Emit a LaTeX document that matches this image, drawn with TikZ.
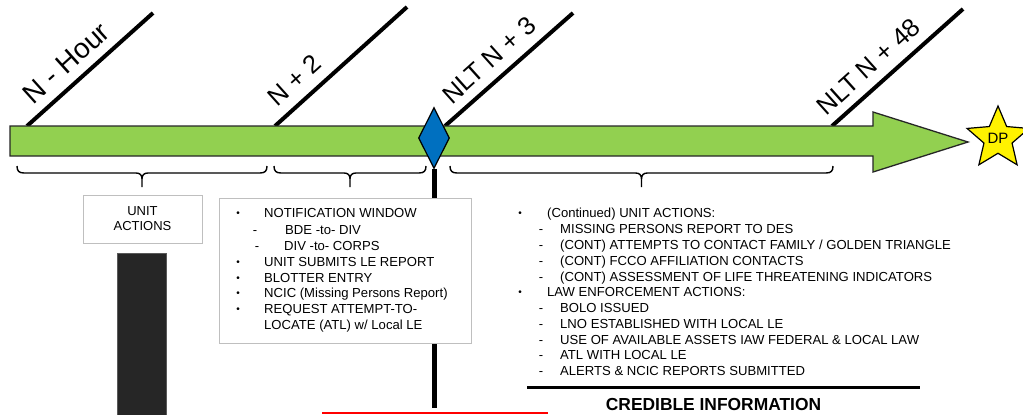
\documentclass[tikz,border=0pt]{standalone}
\usepackage{fontspec}
\setmainfont{Liberation Sans}
\usetikzlibrary{shapes.geometric,calc}
\definecolor{barGreen}{HTML}{92D050}
\definecolor{diaBlue}{HTML}{0070C0}
\definecolor{boxGray}{HTML}{BFBFBF}
\definecolor{darkFill}{HTML}{262626}
\newcommand\tlbrace[2]{%
  \draw[bracestyle] (#1,166) .. controls (#1,171) and ({#1+2},173) .. ({#1+7},173)
    -- ({(#1+#2)/2-6},173) .. controls ({(#1+#2)/2-2},173) and ({(#1+#2)/2},175) .. ({(#1+#2)/2},179)
    -- ({(#1+#2)/2},187)
    ({(#1+#2)/2},179) .. controls ({(#1+#2)/2},175) and ({(#1+#2)/2+2},173) .. ({(#1+#2)/2+6},173)
    -- ({#2-7},173) .. controls ({#2-2},173) and (#2,171) .. (#2,166);}
\begin{document}
\begin{tikzpicture}[x=1pt,y=-1pt,
  tick/.style={line width=4pt,black},
  ticklbl/.style={font=\fontsize{25.5}{30}\selectfont, inner sep=0pt, anchor=base west, rotate=42},
  bracestyle/.style={line width=1.4pt,black},
  txt/.style={font=\fontsize{13.1}{16}\selectfont, inner sep=0pt, text height=9.3pt, text depth=0pt, anchor=west},
  bul/.style={font=\fontsize{10}{12}\selectfont, inner sep=0pt, anchor=base},
  dsh/.style={font=\fontsize{13}{16}\selectfont, inner sep=0pt, text height=9.3pt, text depth=0pt, anchor=center},
  graybox/.style={draw=boxGray, line width=1pt, fill=white}]
\useasboundingbox (0,0) rectangle (1023,415);
\fill[white] (0,0) rectangle (1023,415);

% tick lines
\coordinate (t1a) at (27,126);  \coordinate (t1b) at (153,13);
\coordinate (t2a) at (275,126); \coordinate (t2b) at (407,7);
\coordinate (t3a) at (445,126); \coordinate (t3b) at (573,13);
\coordinate (t4a) at (832,126); \coordinate (t4b) at (963,9);
\draw[tick] (t1a) -- (t1b);
\draw[tick] (t2a) -- (t2b);
\draw[tick] (t3a) -- (t3b);
\draw[tick] (t4a) -- (t4b);
\node[ticklbl, font=\fontsize{28}{32}\selectfont] (l1) at ($(t1a)!18pt!(t1b)!11pt!90:(t1b)$) {N - Hour};
\node[ticklbl] (l2) at ($(t2a)!14pt!(t2b)!12pt!90:(t2b)$) {N + 2};
\node[ticklbl] (l3) at ($(t3a)!19pt!(t3b)!11pt!90:(t3b)$) {NLT N + 3};
\node[ticklbl] (l4) at ($(t4a)!2pt!(t4b)!11pt!90:(t4b)$) {NLT N + 48};

% green timeline arrow
\draw[fill=barGreen, draw=black!85, line width=1.3pt, line join=miter]
  (10,126) -- (873,126) -- (873,112) -- (968,142) -- (873,172) -- (873,156) -- (10,156) -- cycle;

% star
\node[star, star points=5, star point ratio=2.2, minimum size=65pt, inner sep=0pt,
  fill=yellow, draw=black, line width=1.2pt, font=\fontsize{15}{17}\selectfont] (dp) at (998,138.5) {DP};

% vertical line and diamond
\node[diamond, minimum width=31pt, minimum height=61pt, inner sep=0pt,
  fill=diaBlue, draw=black, line width=1.2pt] (dia) at (434,138) {};
\coordinate (vend) at (434,408);
\draw[line width=5pt, black] (dia.south) -- (vend);

% braces
\tlbrace{17}{267}
\tlbrace{274}{426}
\tlbrace{450}{833}

% unit actions box
\node[graybox, minimum width=119pt, minimum height=48pt, inner sep=0pt, align=center,
  font=\fontsize{13}{15}\selectfont] (ua) at (142.5,219) {UNIT\\ACTIONS};

% dark column
\draw[fill=darkFill, draw=black!65, line width=1pt] (117,253) rectangle (166,425);

% notification box
\node[graybox, minimum width=252pt, minimum height=145pt, inner sep=0pt] (nb) at (345,270.5) {};
\node[bul] (nb1) at (238,216.6) {•};
\node[txt] (nt1) at (264,213) {NOTIFICATION WINDOW};
\node[dsh] (nd2) at (255,230) {-};
\node[txt] (nt2) at (285,230) {BDE -to- DIV};
\node[dsh] (nd3) at (257,246) {-};
\node[txt] (nt3) at (284,246) {DIV -to- CORPS};
\node[bul] (nb4) at (238,265.1) {•};
\node[txt] (nt4) at (264,261.5) {UNIT SUBMITS LE REPORT};
\node[bul] (nb5) at (238,281.1) {•};
\node[txt] (nt5) at (264,277.5) {BLOTTER ENTRY};
\node[bul] (nb6) at (238,296.6) {•};
\node[txt] (nt6) at (264,293) {NCIC (Missing Persons Report)};
\node[bul] (nb7) at (238,312.6) {•};
\node[txt] (nt7) at (264,309) {REQUEST ATTEMPT-TO-};
\node[txt] (nt8) at (264,325) {LOCATE (ATL) w/ Local LE};

% right text
\node[bul] (rb1) at (520,216.9) {•};
\node[txt] (rt1) at (547,213.3) {(Continued) UNIT ACTIONS:};
\node[dsh] (rd2) at (541,229.1) {-};
\node[txt] (rt2) at (560,229.1) {MISSING PERSONS REPORT TO DES};
\node[dsh] (rd3) at (541,244.9) {-};
\node[txt] (rt3) at (560,244.9) {(CONT) ATTEMPTS TO CONTACT FAMILY / GOLDEN TRIANGLE};
\node[dsh] (rd4) at (541,260.6) {-};
\node[txt] (rt4) at (560,260.6) {(CONT) FCCO AFFILIATION CONTACTS};
\node[dsh] (rd5) at (541,276.4) {-};
\node[txt] (rt5) at (560,276.4) {(CONT) ASSESSMENT OF LIFE THREATENING INDICATORS};
\node[bul] (rb6) at (520,295.8) {•};
\node[txt] (rt6) at (547,292.2) {LAW ENFORCEMENT ACTIONS:};
\node[dsh] (rd7) at (541,308) {-};
\node[txt] (rt7) at (560,308) {BOLO ISSUED};
\node[dsh] (rd8) at (541,323.8) {-};
\node[txt] (rt8) at (560,323.8) {LNO ESTABLISHED WITH LOCAL LE};
\node[dsh] (rd9) at (541,339.5) {-};
\node[txt] (rt9) at (560,339.5) {USE OF AVAILABLE ASSETS IAW FEDERAL \& LOCAL LAW};
\node[dsh] (rd10) at (541,355.3) {-};
\node[txt] (rt10) at (560,355.3) {ATL WITH LOCAL LE};
\node[dsh] (rd11) at (541,371.1) {-};
\node[txt] (rt11) at (560,371.1) {ALERTS \& NCIC REPORTS SUBMITTED};

% credible information
\coordinate (hl1) at (527,387);
\coordinate (hl2) at (920,387);
\draw[line width=3pt, black] (hl1) -- (hl2);
\node[font=\bfseries\fontsize{17.4}{20}\selectfont, inner sep=0pt] (ci) at (713.5,405) {CREDIBLE INFORMATION};

% red line
\coordinate (rl1) at (322,413);
\coordinate (rl2) at (548,413);
\draw[line width=2pt, red] (rl1) -- (rl2);
\end{tikzpicture}
\end{document}
